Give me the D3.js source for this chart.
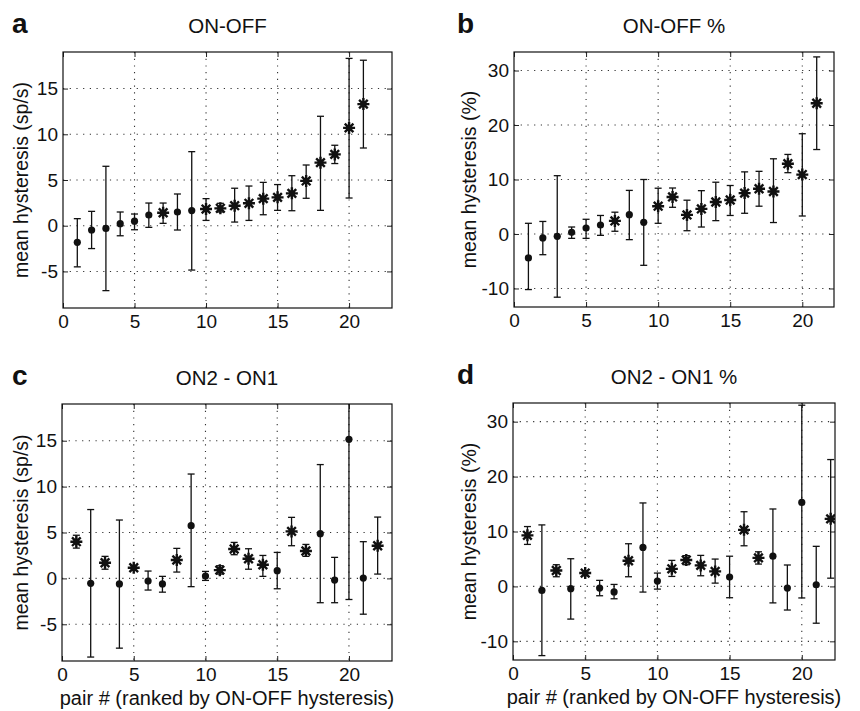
<!DOCTYPE html>
<html><head><meta charset="utf-8">
<script src="https://cdn.jsdelivr.net/npm/d3@7"></script>
<style>body{margin:0;background:#fff} text{font-family:"Liberation Sans",Arial,Helvetica,sans-serif;fill:#111}</style>
</head><body><svg id="chart" width="860" height="711"></svg>
<script>
// ---- data ----
const xTicks = [0, 5, 10, 15, 20];
const yTicksRate = [-5, 0, 5, 10, 15];
const yTicksPct = [-10, 0, 10, 20, 30];

// a: ON-OFF (sp/s)
const aMean = [-1.82, -0.47, -0.3, 0.22, 0.5, 1.17, 1.42, 1.5, 1.66, 1.82, 1.9, 2.19, 2.45, 2.96, 3.1, 3.54, 4.9, 6.9, 7.8, 10.7, 13.3];
const aHigh = [0.77, 1.57, 6.5, 1.5, 1.28, 2.48, 2.48, 3.47, 8.1, 2.96, 2.45, 4.1, 4.34, 4.74, 4.5, 5.47, 6.64, 11.97, 8.8, 18.3, 18.1];
const aLow  = [-4.5, -2.5, -7.1, -1.1, -0.44, -0.18, 0.26, -0.47, -4.85, 0.58, 1.5, 0.4, 0.58, 1.2, 1.68, 1.64, 3.0, 1.68, 6.8, 3.03, 8.5];
const aSig  = [0,0,0,0,0,0,1,0,0,1,1,1,1,1,1,1,1,1,1,1,1];

// b: ON-OFF %
const bMean = [-4.4, -0.73, -0.43, 0.3, 1.1, 1.65, 2.4, 3.55, 2.14, 5.1, 6.8, 3.5, 4.6, 5.87, 6.24, 7.5, 8.3, 7.8, 12.9, 10.9, 24.0];
const bHigh = [1.96, 2.3, 10.7, 1.28, 2.7, 3.4, 4.0, 8.0, 10.0, 8.4, 8.44, 6.2, 7.95, 9.5, 8.9, 11.4, 11.5, 13.8, 14.6, 18.4, 32.5];
const bLow  = [-10.2, -3.8, -11.6, -0.8, -0.8, -0.25, 0.5, -1.04, -5.75, 1.96, 4.9, 0.6, 1.28, 2.45, 3.4, 3.8, 5.1, 2.1, 11.25, 3.3, 15.5];
const bSig  = [0,0,0,0,0,0,1,0,0,1,1,1,1,1,1,1,1,1,1,1,1];

// c: ON2 - ON1 (sp/s)
const cMean = [4.0, -0.54, 1.7, -0.6, 1.16, -0.29, -0.6, 2.0, 5.74, 0.25, 0.9, 3.2, 2.14, 1.49, 0.84, 5.12, 2.98, 4.87, -0.18, 15.15, 0.04, 3.56];
const cHigh = [4.7, 7.5, 2.4, 6.36, 1.4, 0.8, 0.22, 3.27, 11.37, 0.76, 1.38, 3.92, 3.23, 2.5, 2.83, 6.65, 3.7, 12.4, 2.29, 21.0, 4.0, 6.68];
const cLow  = [3.3, -8.57, 1.0, -7.6, 0.87, -1.27, -1.5, 0.69, -0.9, -0.22, 0.47, 2.58, 1.0, 0.22, -1.13, 3.56, 2.4, -2.65, -2.65, -2.3, -3.9, 0.47];
const cSig  = [1,0,1,0,1,0,0,1,0,0,1,1,1,1,0,1,1,0,0,0,0,1];

// d: ON2 - ON1 %
const dMean = [9.3, -0.73, 2.9, -0.42, 2.43, -0.3, -1.0, 4.68, 7.1, 0.97, 3.2, 4.8, 3.83, 2.73, 1.7, 10.3, 5.2, 5.5, -0.3, 15.3, 0.3, 12.3];
const dHigh = [10.9, 11.2, 3.95, 5.04, 2.85, 1.1, 0.36, 7.77, 15.2, 2.43, 4.74, 5.6, 5.65, 4.98, 5.5, 13.6, 6.3, 14.1, 3.9, 33.0, 7.3, 23.1];
const dLow  = [7.65, -12.6, 1.76, -5.95, 1.94, -1.7, -2.25, 1.76, -1.03, -0.49, 1.82, 3.95, 1.94, 0.6, -2.06, 7.4, 4.07, -3.0, -4.3, -2.1, -6.7, 1.5];
const dSig  = [1,0,1,0,1,0,0,1,0,0,1,1,1,1,0,1,1,0,0,0,0,1];

// ---- layout ----
const panels = [
  {letter:'a', title:'ON-OFF', mean:aMean, hi:aHigh, lo:aLow, sig:aSig, yTicks:yTicksRate, yDom:[-9,19], xDom:[0,23],
   box:{x0:63,x1:392,y0:52,y1:308}, ylab:'mean hysteresis (sp/s)', ylabX:28, letterX:12, xlab:false},
  {letter:'b', title:'ON-OFF %', mean:bMean, hi:bHigh, lo:bLow, sig:bSig, yTicks:yTicksPct, yDom:[-13.4,33.4], xDom:[0,22.2],
   box:{x0:514,x1:834,y0:52,y1:307}, ylab:'mean hysteresis (%)', ylabX:476, letterX:457, xlab:false},
  {letter:'c', title:'ON2 - ON1', mean:cMean, hi:cHigh, lo:cLow, sig:cSig, yTicks:yTicksRate, yDom:[-9,19], xDom:[0,23],
   box:{x0:62,x1:392,y0:404,y1:661}, ylab:'mean hysteresis (sp/s)', ylabX:28, letterX:12, xlab:true},
  {letter:'d', title:'ON2 - ON1 %', mean:dMean, hi:dHigh, lo:dLow, sig:dSig, yTicks:yTicksPct, yDom:[-13.4,33.4], xDom:[0,22.3],
   box:{x0:513,x1:835,y0:403,y1:660}, ylab:'mean hysteresis (%)', ylabX:476, letterX:457, xlab:true}
];

const svg = d3.select('#chart');
const starPath = s => {
  const k = s*0.72;
  return `M${-s},0L${s},0M0,${-s}L0,${s}M${-k},${-k}L${k},${k}M${-k},${k}L${k},${-k}`;
};

panels.forEach((p, i) => {
  const B = p.box;
  const x = d3.scaleLinear().domain(p.xDom).range([B.x0, B.x1]);
  const y = d3.scaleLinear().domain(p.yDom).range([B.y1, B.y0]);
  const g = svg.append('g');
  const clipId = 'clip' + i;
  svg.append('clipPath').attr('id', clipId).append('rect')
    .attr('x', B.x0).attr('y', B.y0).attr('width', B.x1 - B.x0).attr('height', B.y1 - B.y0);

  // gridlines
  const grid = g.append('g').attr('stroke', '#333').attr('stroke-width', 1.1).attr('stroke-dasharray', '1.2,5.5');
  xTicks.filter(t => t > p.xDom[0] && t < p.xDom[1]).forEach(t => {
    grid.append('line').attr('x1', x(t)).attr('x2', x(t)).attr('y1', B.y0).attr('y2', B.y1);
  });
  p.yTicks.forEach(t => {
    grid.append('line').attr('x1', B.x0).attr('x2', B.x1).attr('y1', y(t)).attr('y2', y(t));
  });

  // axes via d3 (inward ticks)
  const xb = g.append('g').attr('transform', `translate(0,${B.y1})`)
    .call(d3.axisBottom(x).tickValues(xTicks).tickSizeInner(-5).tickSizeOuter(0).tickPadding(7).tickFormat(d3.format('d')));
  const xt = g.append('g').attr('transform', `translate(0,${B.y0})`)
    .call(d3.axisTop(x).tickValues(xTicks).tickSizeInner(-5).tickSizeOuter(0).tickFormat(''));
  const yl = g.append('g').attr('transform', `translate(${B.x0},0)`)
    .call(d3.axisLeft(y).tickValues(p.yTicks).tickSizeInner(-5).tickSizeOuter(0).tickPadding(5).tickFormat(d3.format('d')));
  const yr = g.append('g').attr('transform', `translate(${B.x1},0)`)
    .call(d3.axisRight(y).tickValues(p.yTicks).tickSizeInner(-5).tickSizeOuter(0).tickFormat(''));
  [xb, xt, yl, yr].forEach(a => {
    a.select('.domain').remove();
    a.selectAll('line').attr('stroke', '#222');
    a.selectAll('text').style('font-size', '19px').attr('fill', '#111');
  });
  xb.selectAll('text').attr('dy', '0.71em');
  yl.selectAll('text').text(d => d < 0 ? '-' + Math.abs(d) : d);

  // box
  g.append('rect').attr('x', B.x0).attr('y', B.y0).attr('width', B.x1 - B.x0).attr('height', B.y1 - B.y0)
    .attr('fill', 'none').attr('stroke', '#111').attr('stroke-width', 1.2);

  // error bars
  const data = p.mean.map((m, j) => ({x: j + 1, m, hi: p.hi[j], lo: p.lo[j], sig: p.sig[j]}));
  const eb = g.append('g').attr('clip-path', `url(#${clipId})`).attr('stroke', '#111').attr('stroke-width', 1.3);
  data.forEach(d => {
    eb.append('line').attr('x1', x(d.x)).attr('x2', x(d.x)).attr('y1', y(d.hi)).attr('y2', y(d.lo));
    eb.append('line').attr('x1', x(d.x) - 3.5).attr('x2', x(d.x) + 3.5).attr('y1', y(d.hi)).attr('y2', y(d.hi));
    eb.append('line').attr('x1', x(d.x) - 3.5).attr('x2', x(d.x) + 3.5).attr('y1', y(d.lo)).attr('y2', y(d.lo));
  });
  // markers
  const mk = g.append('g').attr('clip-path', `url(#${clipId})`);
  data.filter(d => !d.sig).forEach(d => {
    mk.append('circle').attr('cx', x(d.x)).attr('cy', y(d.m)).attr('r', 3.6).attr('fill', '#111');
  });
  data.filter(d => d.sig).forEach(d => {
    mk.append('path').attr('d', starPath(6)).attr('transform', `translate(${x(d.x)},${y(d.m)})`)
      .attr('stroke', '#111').attr('stroke-width', 2.4).attr('fill', 'none');
    mk.append('circle').attr('cx', x(d.x)).attr('cy', y(d.m)).attr('r', 2.8).attr('fill', '#111');
  });

  // titles and labels
  const cx = (B.x0 + B.x1) / 2;
  g.append('text').attr('x', cx).attr('y', B.y0 - 19).attr('text-anchor', 'middle')
    .style('font-size', '20.5px').text(p.title);
  g.append('text').attr('x', p.letterX).attr('y', B.y0 - 19).style('font-size', '28px')
    .style('font-weight', 'bold').text(p.letter);
  g.append('text').attr('transform', `translate(${p.ylabX},${(B.y0 + B.y1) / 2}) rotate(-90)`)
    .attr('text-anchor', 'middle').style('font-size', '19.5px').text(p.ylab);
  if (p.xlab) {
    g.append('text').attr('x', cx).attr('y', B.y1 + 44).attr('text-anchor', 'middle')
      .style('font-size', '20px').text('pair # (ranked by ON-OFF hysteresis)');
  }
});
</script></body></html>
